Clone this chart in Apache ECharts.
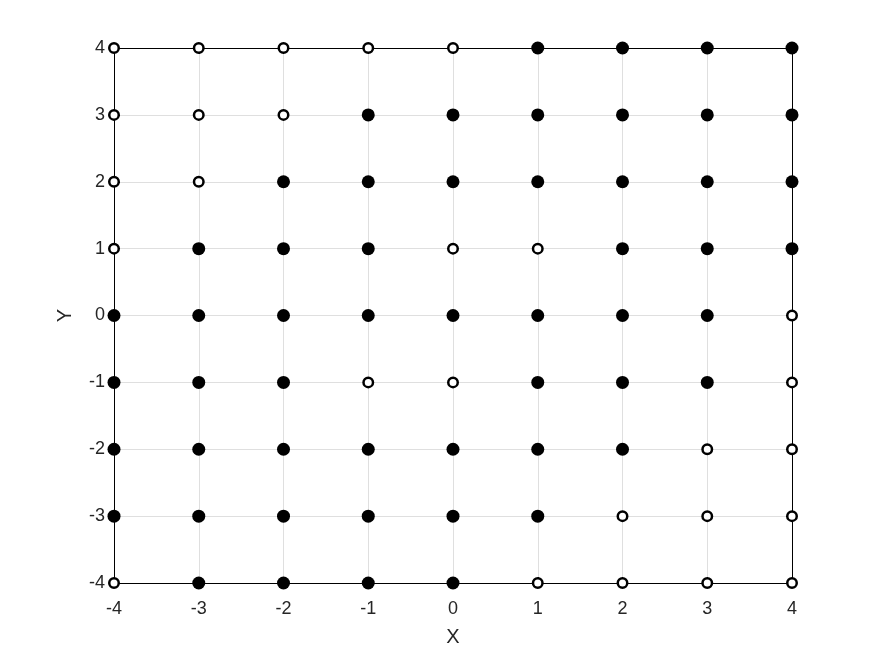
<!DOCTYPE html>
<html><head><meta charset="utf-8">
<script src="https://cdn.jsdelivr.net/npm/echarts@6/dist/echarts.min.js"></script>
<style>html,body{margin:0;padding:0;background:#fff}#c{width:875px;height:656px}</style>
</head><body><div id="c"></div>
<script>
const xTicks = [-4,-3,-2,-1,0,1,2,3,4];
const yTicks = [-4,-3,-2,-1,0,1,2,3,4];
// open (hollow) points, [x, y]
const openPoints = [
  [-4,4],[-3,4],[-2,4],[-1,4],[0,4],
  [-4,3],[-3,3],[-2,3],
  [-4,2],[-3,2],
  [-4,1],[0,1],[1,1],
  [4,0],
  [-1,-1],[0,-1],[4,-1],
  [3,-2],[4,-2],
  [2,-3],[3,-3],[4,-3],
  [-4,-4],[1,-4],[2,-4],[3,-4],[4,-4]
];
// filled points, [x, y]
const filledPoints = [
  [1,4],[2,4],[3,4],[4,4],
  [-1,3],[0,3],[1,3],[2,3],[3,3],[4,3],
  [-2,2],[-1,2],[0,2],[1,2],[2,2],[3,2],[4,2],
  [-3,1],[-2,1],[-1,1],[2,1],[3,1],[4,1],
  [-4,0],[-3,0],[-2,0],[-1,0],[0,0],[1,0],[2,0],[3,0],
  [-4,-1],[-3,-1],[-2,-1],[1,-1],[2,-1],[3,-1],
  [-4,-2],[-3,-2],[-2,-2],[-1,-2],[0,-2],[1,-2],[2,-2],
  [-4,-3],[-3,-3],[-2,-3],[-1,-3],[0,-3],[1,-3],
  [-3,-4],[-2,-4],[-1,-4],[0,-4]
];
const chart = echarts.init(document.getElementById('c'));
const font = 'Liberation Sans, Arial, sans-serif';
const axisCommon = {
  type: 'value', min: xTicks[0], max: xTicks[xTicks.length - 1], interval: 1,
  axisLine: {show: true, onZero: false, lineStyle: {color: '#000', width: 1}},
  axisTick: {show: true, inside: true, length: 6, lineStyle: {color: '#000'}},
  splitLine: {show: true, lineStyle: {color: '#dfdfdf', width: 1}},
  axisLabel: {color: '#262626', fontSize: 18, fontFamily: font},
  nameTextStyle: {color: '#262626', fontSize: 20, fontFamily: font},
  nameLocation: 'middle'
};
const boxAxis = {
  type: 'value', min: -4, max: 4, interval: 1,
  axisLine: {show: true, onZero: false, lineStyle: {color: '#000', width: 1}},
  axisTick: {show: true, inside: true, length: 6, lineStyle: {color: '#000'}},
  splitLine: {show: false}, axisLabel: {show: false}
};
chart.setOption({
  animation: false,
  backgroundColor: '#fff',
  grid: {left: 114, right: 83, top: 48, bottom: 73},
  xAxis: [
    Object.assign({}, axisCommon, {name: 'X', nameGap: 44, axisLabel: Object.assign({}, axisCommon.axisLabel, {margin: 17})}),
    Object.assign({}, boxAxis, {position: 'top'})
  ],
  yAxis: [
    Object.assign({}, axisCommon, {min: yTicks[0], max: yTicks[yTicks.length - 1], name: 'Y', nameGap: 39, axisLabel: Object.assign({}, axisCommon.axisLabel, {margin: 9})}),
    Object.assign({}, boxAxis, {position: 'right'})
  ],
  series: [
    {type: 'scatter', data: filledPoints, symbol: 'circle', symbolSize: 13, clip: false,
     itemStyle: {color: '#000', opacity: 1}, z: 5},
    {type: 'scatter', data: openPoints, symbol: 'circle', symbolSize: 9.5, clip: false,
     itemStyle: {color: '#fff', borderColor: '#000', borderWidth: 2.5, opacity: 1}, z: 5}
  ]
});
</script></body></html>
